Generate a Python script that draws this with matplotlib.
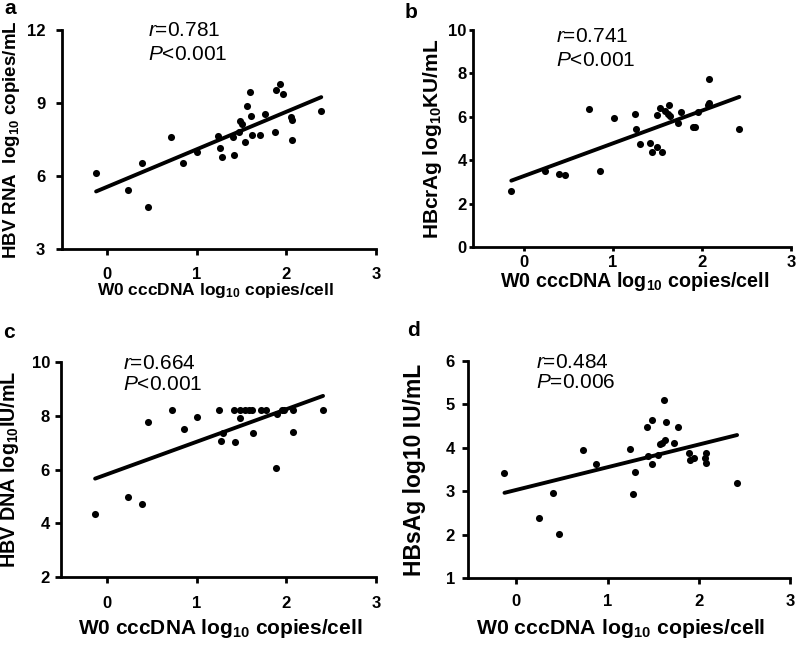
import numpy as np
import matplotlib
matplotlib.use("Agg")
import matplotlib.pyplot as plt

plt.rcParams['font.family'] = ['Liberation Sans', 'DejaVu Sans']
plt.rcParams['mathtext.fontset'] = 'custom'
plt.rcParams['mathtext.rm'] = 'Liberation Sans'
plt.rcParams['mathtext.it'] = 'Liberation Sans:italic'
plt.rcParams['mathtext.bf'] = 'Liberation Sans:bold'

# panel a: HBV RNA
a_x = [-0.12, 0.24, 0.39, 0.46, 0.72, 0.85, 1.00, 1.24, 1.26, 1.28, 1.41, 1.42, 1.47, 1.48,
       1.51, 1.54, 1.56, 1.59, 1.61, 1.62, 1.71, 1.76, 1.87, 1.88, 1.93, 1.96, 2.05, 2.06,
       2.06, 2.39]
a_y = [6.12, 5.43, 6.53, 4.72, 7.61, 6.53, 6.98, 7.65, 7.16, 6.79, 7.62, 6.88, 7.79, 8.24,
       8.14, 7.38, 8.88, 9.44, 8.47, 7.70, 7.70, 8.55, 7.79, 9.54, 9.77, 9.36, 8.44, 8.31,
       7.47, 8.69]

# panel b: HBcrAg
b_x = [-0.14, 0.24, 0.39, 0.46, 0.73, 0.86, 1.01, 1.25, 1.26, 1.30, 1.42, 1.44, 1.50, 1.55,
       1.50, 1.53, 1.59, 1.63, 1.62, 1.64, 1.73, 1.77, 1.90, 1.92, 1.96, 2.07, 2.08, 2.08,
       2.42]
b_y = [2.59, 3.50, 3.37, 3.33, 6.38, 3.48, 5.94, 6.13, 5.44, 4.74, 4.79, 4.39, 4.60, 4.39,
       6.09, 6.40, 6.27, 6.55, 6.13, 6.05, 5.71, 6.24, 5.55, 5.55, 6.20, 6.55, 6.65, 7.72,
       5.43]

# panel c: HBV DNA
c_x = [-0.13, 0.24, 0.39, 0.46, 0.73, 0.86, 1.01, 1.25, 1.27, 1.29, 1.42, 1.43, 1.48, 1.49,
       1.54, 1.58, 1.62, 1.63, 1.72, 1.77, 1.89, 1.90, 1.95, 1.97, 2.07, 2.07, 2.41]
c_y = [4.33, 4.98, 4.73, 7.77, 8.22, 7.50, 7.95, 8.22, 7.05, 7.35, 8.22, 7.03, 7.90, 8.22,
       8.22, 8.22, 8.22, 7.35, 8.22, 8.22, 6.06, 8.06, 8.22, 8.22, 8.22, 7.38, 8.22]

# panel d: HBsAg
d_x = [-0.13, 0.25, 0.40, 0.47, 0.73, 0.87, 1.25, 1.28, 1.30, 1.43, 1.44, 1.49, 1.49, 1.55,
       1.57, 1.60, 1.63, 1.62, 1.64, 1.73, 1.77, 1.89, 1.90, 1.95, 2.08, 2.07, 2.08, 2.42]
d_y = [3.43, 2.38, 2.95, 2.01, 3.95, 3.63, 3.98, 2.93, 3.45, 4.48, 3.82, 4.63, 3.62, 3.83,
       4.08, 4.12, 4.18, 5.10, 4.60, 4.12, 4.48, 3.88, 3.73, 3.77, 3.88, 3.77, 3.64, 3.18]

panels = [
    dict(x=a_x, y=a_y, letter='a', ylabel=r'HBV RNA  log$_{\mathbf{10}}$ copies/mL',
         ylim=(3, 12), yticks=[3, 6, 9, 12], xmin=-0.5, r='0.781', p='<0.001',
         rect=[62, 30, 376, 249], txt=(148, 31, 23), let=(4, 8),
         xfs=12.5, yfs=13.5, xlab=(216, 291), ylab_x=12, tl=4, xpad=9, ypad=8),
    dict(x=b_x, y=b_y, letter='b', ylabel=r'HBcrAg log$_{\mathbf{10}}$KU/mL',
         ylim=(0, 10), yticks=[0, 2, 4, 6, 8, 10], xmin=-0.57, r='0.741', p='<0.001',
         rect=[473, 30, 791, 247], txt=(556, 36, 24), let=(405, 12),
         xfs=14.2, yfs=15, xlab=(635, 282), ylab_x=432, tl=3, xpad=3, ypad=1.5),
    dict(x=c_x, y=c_y, letter='c', ylabel=r'HBV DNA log$_{\mathbf{10}}$IU/mL',
         ylim=(2, 10), yticks=[2, 4, 6, 8, 10], xmin=-0.51, r='0.664', p='<0.001',
         rect=[61, 362, 376, 577], txt=(123, 363, 21), let=(3, 332),
         xfs=15, yfs=14.2, xlab=(220, 629), ylab_x=10, tl=4, xpad=10, ypad=4),
    dict(x=d_x, y=d_y, letter='d', ylabel='HBsAg log10 IU/mL',
         ylim=(1, 6), yticks=[1, 2, 3, 4, 5, 6], xmin=-0.53, r='0.484', p='=0.006',
         rect=[468, 361, 790, 578], txt=(536, 362, 21), let=(407, 330),
         xfs=15.3, yfs=16.5, xlab=(621, 628), ylab_x=414, tl=4, xpad=7.5, ypad=5.5),
]

W, H = 796, 646
fig = plt.figure(figsize=(W / 100, H / 100), dpi=100)

for pn in panels:
    l, t, r, b = pn['rect']
    ax = fig.add_axes([l / W, 1 - b / H, (r - l) / W, (b - t) / H])
    x = np.array(pn['x'])
    y = np.array(pn['y'])
    ax.scatter(x, y, s=26, color='black', zorder=3, linewidths=0)
    k, c0 = np.polyfit(x, y, 1)
    xs = np.array([x.min(), x.max()])
    ax.plot(xs, k * xs + c0, color='black', lw=2.8, solid_capstyle='round')

    ax.set_xlim(pn['xmin'], 3)
    ax.set_ylim(*pn['ylim'])
    ax.set_xticks([0, 1, 2, 3])
    ax.set_yticks(pn['yticks'])
    for s in ['top', 'right']:
        ax.spines[s].set_visible(False)
    for s in ['left', 'bottom']:
        ax.spines[s].set_linewidth(2)
    ax.tick_params(width=2, length=pn['tl'], labelsize=12)
    ax.tick_params(axis='x', pad=pn['xpad'])
    ax.tick_params(axis='y', pad=pn['ypad'])
    for lab in ax.get_xticklabels() + ax.get_yticklabels():
        lab.set_fontweight('bold')

    xl_x, xl_y = pn['xlab']
    fig.text(xl_x / W, 1 - xl_y / H,
             r'W0 cccDNA log$_{\mathbf{10}}$ copies/cell', fontsize=pn['xfs'],
             fontweight='bold', ha='center', va='center')
    fig.text(pn['ylab_x'] / W, 1 - (t + b) / 2 / H, pn['ylabel'], fontsize=pn['yfs'],
             fontweight='bold', ha='center', va='center', rotation=90)

    tx, ty, dy = pn['txt']
    fig.text(tx / W, 1 - ty / H, r'$r$=' + pn['r'], fontsize=15, va='center')
    fig.text(tx / W, 1 - (ty + dy) / H, r'$P$' + pn['p'], fontsize=15, va='center')
    lx, ly = pn['let']
    fig.text(lx / W, 1 - ly / H, pn['letter'], fontsize=15,
             fontweight='bold', va='center')

fig.savefig('out.png', dpi=100)
